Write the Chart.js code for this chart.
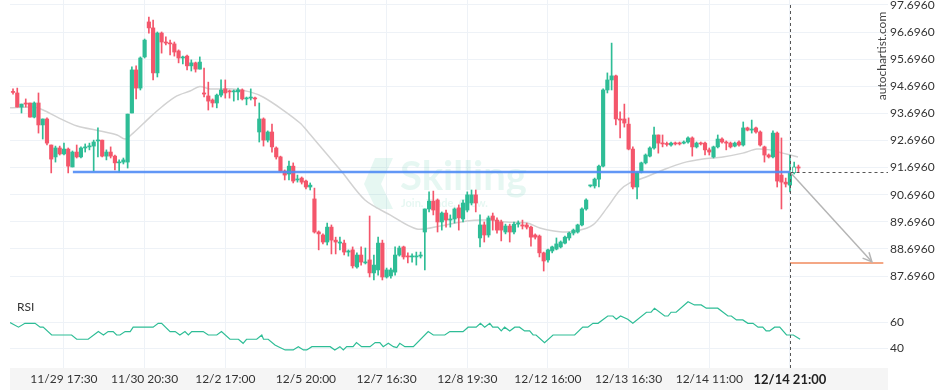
<!DOCTYPE html>
<html lang="en">
<head>
<meta charset="UTF-8">
<title>Skilling - autochartist</title>
<style>
  html, body { margin: 0; padding: 0; background: #fff; }
  .chart-wrap { position: relative; width: 936px; height: 390px; }
</style>
</head>
<body>
<div class="chart-wrap"><canvas id="chart"></canvas></div>
<script src="https://cdn.jsdelivr.net/npm/chart.js"></script>
<script>
// candles, one per slot (index 0 .. 185)
const opens = [
  94.50, 94.45, 93.93, 94.08, 94.08, 93.56, 94.08, 93.27, 93.49, 92.53,
  92.09, 92.42, 92.20, 92.38, 91.72, 92.27, 92.09, 92.42, 92.46, 92.49,
  92.68, 92.71, 92.12, 92.27, 92.12, 91.87, 91.90, 91.90, 93.71, 95.30,
  94.63, 95.78, 97.07, 96.85, 95.19, 96.66, 96.33, 96.29, 96.26, 96.00,
  95.74, 95.81, 95.45, 95.56, 95.33, 94.45, 94.34, 94.19, 94.08, 94.37,
  94.60, 94.52, 94.49, 94.49, 94.56, 94.23, 94.26, 94.26, 93.01, 93.49,
  92.71, 93.01, 92.42, 92.09, 91.57, 91.46, 91.75, 91.24, 91.31, 91.20,
  90.98, 90.54, 89.32, 89.21, 88.95, 89.50, 89.02, 88.91, 88.91, 88.58,
  88.66, 88.03, 88.47, 88.18, 88.29, 87.81, 87.92, 88.91, 87.66, 87.70,
  87.84, 88.47, 88.77, 88.43, 88.40, 88.40, 88.43, 89.32, 90.17, 90.46,
  90.50, 89.69, 90.02, 89.76, 89.80, 90.21, 89.80, 90.13, 90.39, 90.69,
  89.10, 89.58, 89.21, 89.91, 89.76, 89.69, 89.32, 89.54, 89.32, 89.61,
  89.58, 89.58, 89.50, 89.21, 89.17, 88.55, 88.29, 88.62, 88.69, 88.77,
  88.91, 89.10, 89.28, 89.32, 89.58, 90.17, 91.02, 91.02, 91.27, 91.75,
  94.56, 94.93, 95.08, 93.49, 93.49, 93.30, 92.38, 90.98, 91.53, 91.87,
  92.12, 92.42, 92.90, 92.60, 92.57, 92.53, 92.60, 92.60, 92.60, 92.64,
  92.79, 92.46, 92.60, 92.60, 92.35, 92.09, 92.46, 92.75, 92.64, 92.60,
  92.49, 92.64, 92.53, 93.16, 93.08, 93.16, 93.01, 92.46, 92.16, 92.09,
  92.97, 91.42, 91.16, 91.05, 91.50, 91.72
];
const closes = [
  94.47, 93.93, 94.04, 94.04, 93.56, 94.08, 93.27, 93.49, 92.60, 92.01,
  92.42, 92.20, 92.38, 91.75, 92.27, 92.09, 92.42, 92.46, 92.49, 92.64,
  92.71, 92.12, 92.27, 92.12, 91.87, 91.90, 91.98, 93.67, 95.30, 94.63,
  95.74, 96.40, 96.85, 95.19, 96.66, 96.33, 96.29, 96.26, 95.96, 95.74,
  95.78, 95.45, 95.56, 95.33, 95.59, 94.41, 94.15, 94.08, 94.37, 94.56,
  94.45, 94.49, 94.51, 94.56, 94.23, 94.26, 94.30, 94.23, 93.49, 92.71,
  93.01, 92.46, 92.09, 91.57, 91.42, 91.75, 91.20, 91.27, 91.16, 90.98,
  91.05, 89.32, 89.25, 88.95, 89.50, 89.02, 88.95, 88.95, 88.58, 88.62,
  88.07, 88.47, 88.21, 88.21, 87.81, 88.10, 88.91, 87.66, 87.92, 87.92,
  88.47, 88.73, 88.40, 88.40, 88.43, 88.43, 88.47, 90.17, 90.46, 90.13,
  89.69, 90.02, 89.76, 89.80, 90.17, 89.84, 90.39, 90.69, 90.69, 90.39,
  89.58, 89.21, 89.84, 89.76, 89.39, 89.39, 89.54, 89.32, 89.61, 89.65,
  89.54, 89.50, 89.13, 89.13, 88.55, 88.25, 88.66, 88.77, 88.88, 88.95,
  89.13, 89.28, 89.39, 89.58, 90.17, 90.50, 91.03, 91.27, 91.75, 94.56,
  94.93, 95.08, 93.49, 93.45, 93.34, 92.38, 90.98, 91.50, 91.87, 92.16,
  92.42, 92.90, 92.60, 92.57, 92.55, 92.60, 92.57, 92.57, 92.64, 92.79,
  92.46, 92.60, 92.57, 92.35, 92.27, 92.46, 92.75, 92.64, 92.60, 92.46,
  92.60, 92.53, 93.16, 93.08, 93.12, 93.01, 92.53, 92.16, 92.09, 92.97,
  91.20, 91.16, 91.09, 91.50, 91.72, 91.68
];
const highs = [
  94.60, 94.63, 94.04, 94.23, 94.08, 94.12, 94.45, 93.49, 93.53, 92.53,
  92.49, 92.49, 92.60, 92.42, 92.31, 92.53, 92.46, 92.57, 92.60, 92.71,
  93.16, 92.71, 92.35, 92.46, 92.16, 91.98, 92.05, 93.67, 95.41, 95.45,
  95.78, 96.44, 97.25, 97.14, 96.70, 96.70, 96.52, 96.40, 96.33, 96.04,
  95.81, 95.85, 95.67, 95.59, 95.78, 95.37, 94.85, 94.23, 94.41, 94.93,
  94.93, 94.56, 94.56, 94.63, 94.60, 94.30, 94.60, 94.30, 94.08, 93.53,
  93.05, 93.30, 92.46, 92.12, 91.61, 91.94, 91.87, 91.42, 91.35, 91.24,
  91.13, 90.94, 89.36, 89.25, 89.65, 89.58, 89.13, 89.13, 89.02, 88.66,
  88.77, 88.55, 88.77, 88.73, 89.91, 88.47, 89.13, 89.02, 87.99, 87.99,
  88.77, 88.80, 88.80, 88.55, 88.51, 88.58, 88.58, 90.17, 90.80, 90.83,
  90.54, 90.06, 90.13, 89.95, 90.21, 90.32, 90.50, 90.80, 90.87, 90.87,
  89.95, 89.69, 89.91, 90.02, 89.84, 89.76, 89.61, 89.61, 89.69, 89.73,
  89.76, 89.65, 89.54, 89.25, 89.21, 88.58, 88.69, 88.80, 89.10, 88.99,
  89.17, 89.32, 89.43, 89.61, 90.21, 90.54, 91.05, 91.31, 91.79, 94.60,
  95.19, 96.29, 95.11, 93.75, 94.04, 93.53, 92.46, 91.53, 91.90, 92.20,
  92.46, 93.19, 92.90, 92.90, 92.64, 92.64, 92.64, 92.64, 92.68, 92.83,
  92.83, 92.64, 92.64, 92.64, 92.42, 92.49, 92.90, 92.79, 92.68, 92.64,
  92.64, 92.68, 93.38, 93.19, 93.45, 93.19, 93.05, 92.49, 92.20, 93.05,
  93.01, 92.79, 91.31, 92.16, 91.90, 91.79
];
const lows = [
  94.41, 93.93, 93.71, 93.93, 93.56, 93.53, 92.97, 92.75, 92.53, 91.50,
  91.90, 92.16, 92.16, 91.50, 91.72, 92.05, 92.05, 92.27, 92.35, 91.57,
  92.09, 92.09, 91.98, 92.05, 91.61, 91.53, 91.83, 91.68, 93.71, 94.23,
  94.56, 95.74, 96.66, 94.93, 95.04, 95.92, 96.22, 95.85, 95.81, 95.56,
  95.52, 95.30, 95.26, 95.22, 95.33, 94.30, 93.82, 93.93, 93.90, 94.30,
  94.26, 94.26, 94.15, 94.19, 94.19, 94.01, 94.19, 93.97, 92.64, 92.49,
  92.64, 92.27, 92.01, 91.53, 91.24, 91.24, 91.13, 91.16, 91.09, 90.91,
  90.87, 89.28, 88.66, 88.88, 88.84, 88.51, 88.51, 88.66, 88.47, 88.43,
  87.99, 87.99, 88.10, 88.14, 87.66, 87.55, 87.73, 87.55, 87.62, 87.62,
  87.73, 88.43, 88.32, 88.18, 88.21, 88.10, 88.36, 87.92, 90.06, 89.95,
  89.32, 89.39, 89.50, 89.50, 89.65, 89.39, 89.69, 90.06, 90.32, 90.06,
  88.77, 88.95, 89.13, 89.39, 89.28, 88.99, 89.25, 88.95, 89.25, 89.50,
  89.43, 89.43, 88.80, 89.06, 88.40, 87.88, 88.21, 88.55, 88.66, 88.73,
  88.88, 89.02, 89.21, 89.28, 89.54, 90.13, 90.98, 90.94, 90.98, 91.72,
  94.45, 94.56, 93.27, 92.79, 93.19, 92.35, 90.91, 90.54, 91.50, 91.83,
  92.09, 92.38, 92.23, 92.46, 92.49, 92.49, 92.53, 92.53, 92.57, 92.60,
  92.12, 92.42, 92.53, 92.16, 92.16, 92.05, 92.42, 92.60, 92.35, 92.42,
  92.46, 92.49, 92.49, 93.05, 92.97, 92.97, 92.49, 91.90, 92.05, 92.05,
  90.98, 90.17, 90.98, 90.80, 91.46, 91.53
];
const liveCandle = 184;   // the still-open candle is drawn hollow

// moving average (slot index, price)
const maIdx = [-0.7, 4.7, 7.1, 10.4, 15.1, 20.5, 24.5, 26.4, 28.3, 32.3, 35.3, 38.6, 41.7, 44, 46.4, 51.8,
  55.8, 58.9, 63.6, 67.6, 69.5, 72.3, 75.1, 77.5, 82.9, 88.8, 95.1, 100.6, 106.9, 111.6, 116.3, 121.1,
  124.1, 128.8, 132.8, 136.6, 139.9, 143, 145.3, 148.4, 153.1, 157.8, 162.5, 167.2, 171.9, 175.2, 178.3, 181.3, 184.9];
const maVal = [93.90, 93.93, 93.82, 93.56, 93.23, 93.05, 92.90, 92.75, 92.97, 93.56, 93.97, 94.34, 94.52, 94.69, 94.60, 94.60,
  94.49, 94.30, 93.82, 93.34, 93.01, 92.49, 91.98, 91.53, 90.50, 89.95, 89.43, 89.54, 89.73, 89.76, 89.69, 89.65,
  89.47, 89.33, 89.36, 89.58, 90.21, 90.87, 91.13, 91.31, 91.61, 91.87, 92.01, 92.09, 92.23, 92.38, 92.35, 92.23, 92.09];

// RSI pane
const rsiIdx = [-0.7, 1.3, 2.8, 5.2, 6.4, 7.1, 9.1, 13.8, 15, 17.7,
  20.1, 21.3, 22.4, 23.6, 24.4, 25.2, 26.4, 27.6, 28.3, 33,
  34.2, 35, 37, 38.2, 39.3, 40.5, 41.3, 42.1, 44.8, 46,
  48, 49.1, 51.1, 53.1, 54.2, 55, 57.4, 58.6, 59, 60.1,
  61.7, 62.5, 64.1, 66, 67.2, 68.4, 69.2, 70.4, 74.7, 75.8,
  77, 77.8, 78.6, 80.1, 80.9, 82.1, 84.1, 85.3, 86.4, 87.2,
  88.4, 89.6, 90.4, 91.1, 92.3, 94.3, 97.8, 99, 101.7, 102.9,
  106, 107.2, 109.1, 110.1, 111.1, 112.3, 113, 114.2, 115, 115.8,
  117, 118.2, 119.3, 120.5, 121.7, 122.5, 123.2, 125.2, 127.2, 132.3,
  134.2, 135.4, 136.6, 137.8, 140.1, 141.3, 142.1, 143.1, 144.8, 146,
  149.2, 150.3, 151.1, 153.5, 154.3, 155, 156.2, 159, 160.5, 162.1,
  163.3, 166, 168.4, 169.2, 170.4, 171.9, 173.1, 174.3, 175.5, 176.6,
  177.4, 178.2, 179.4, 180.6, 182.2, 183.8, 185.4];
const rsiVal = [59.7, 56.2, 59.2, 59.2, 56.2, 56.2, 50.2, 50.2, 46.9, 46.9,
  52.8, 50.2, 52.8, 52.8, 50.2, 50.2, 52.8, 52.8, 56.2, 56.2,
  59.2, 59.2, 52.8, 52.8, 50.2, 52.8, 50.2, 52.8, 52.8, 50.2,
  50.2, 52.8, 46.9, 46.9, 43.8, 46.9, 46.9, 50.2, 46.9, 46.9,
  42.5, 41.2, 38.7, 38.7, 41.2, 38.7, 38.7, 41.2, 41.2, 38.7,
  41.2, 38.7, 41.2, 41.2, 44.3, 41.2, 41.2, 44.3, 44.3, 41.2,
  43.8, 41.2, 40.5, 43.8, 41.2, 41.2, 52.8, 50.2, 50.2, 52.8,
  52.8, 56.2, 56.2, 59.2, 56.2, 59.2, 56.2, 56.2, 53.3, 56.2,
  53.3, 56.2, 56.2, 53.3, 53.3, 50.2, 50.2, 44.3, 50.2, 50.2,
  56.2, 56.2, 59.2, 59.2, 64.8, 64.8, 62.3, 64.8, 62.3, 59.2,
  67.7, 67.7, 70.8, 64.8, 64.8, 67.7, 67.7, 75.8, 73.3, 73.3,
  70.8, 70.8, 64.8, 64.8, 61.8, 61.8, 59.2, 59.2, 56.2, 56.2,
  53.3, 53.3, 56.2, 56.2, 50.2, 50.2, 46.9];

// support level, breakout and forecast
const levelPrice = 91.53;
const levelFrom = 14.1;
const breakoutIdx = 183;
const arrowTipIdx = 202.3;
const arrowTipPrice = 88.22;
const targetPrice = 88.18;
const targetTo = 205;

// axes
const labelIdx = [12, 31, 50, 69, 88, 107, 126, 145, 164, 183];
const timeLabels = ['11/29 17:30', '11/30 20:30', '12/2 17:00', '12/5 20:00', '12/7 16:30',
  '12/8 19:30', '12/12 16:00', '12/13 16:30', '12/14 11:00', '12/14 21:00'];
const priceTicks = [87.696, 88.696, 89.696, 90.696, 91.696, 92.696, 93.696, 94.696, 95.696, 96.696, 97.696];
const rsiTicks = [40, 60];

const GREEN = '#2ebd96';
const RED = '#f4566b';
const GRID = '#eef2f7';

const bodies = opens.map((o, i) => ({ x: i, y: [o, closes[i]] }));
const wicks = opens.map((o, i) => ({ x: i, y: [lows[i], highs[i]] }));
const candleColor = opens.map((o, i) => closes[i] >= o ? GREEN : RED);
const bodyFill = candleColor.map((c, i) => i === liveCandle ? '#ffffff' : c);
const bodyBorderW = candleColor.map((c, i) => i === liveCandle ? 1 : 0);

// keep the plot area flush with the canvas edges
function noPad(s) {
  s.paddingTop = 0;
  s.paddingBottom = 0;
  s.paddingLeft = 0;
  s.paddingRight = 0;
}

const overlay = {
  id: 'overlay',
  beforeDraw(chart) {
    const { ctx, chartArea: a } = chart;
    ctx.save();
    ctx.fillStyle = '#f5f5f5';
    ctx.fillRect(a.left, a.bottom, a.right - a.left, chart.height - a.bottom);
    ctx.restore();
  },
  beforeDatasetsDraw(chart) {
    // faint broker watermark
    const { ctx } = chart;
    ctx.save();
    ctx.fillStyle = 'rgba(46, 189, 150, 0.12)';
    ctx.beginPath();
    ctx.moveTo(375, 158);
    ctx.lineTo(393, 158);
    ctx.lineTo(381, 184);
    ctx.lineTo(393, 209);
    ctx.lineTo(376, 209);
    ctx.lineTo(364, 184);
    ctx.closePath();
    ctx.fill();
    ctx.font = 'bold 40px Lato';
    ctx.textBaseline = 'alphabetic';
    ctx.fillText('Skilling', 400, 190);
    ctx.font = 'bold 11px Lato';
    ctx.fillText('Join. Trade. Grow.', 401, 207);
    ctx.restore();
  },
  afterDatasetsDraw(chart) {
    const { ctx, chartArea: a, scales } = chart;
    const xs = scales.x, ys = scales.y;
    const bx = Math.round(xs.getPixelForValue(breakoutIdx)) + 0.5;
    const ly = Math.round(ys.getPixelForValue(levelPrice)) + 0.5;
    ctx.save();
    ctx.strokeStyle = '#555';
    ctx.lineWidth = 1;
    ctx.setLineDash([3, 3]);
    ctx.beginPath();
    ctx.moveTo(bx, ys.getPixelForValue(priceTicks[priceTicks.length - 1]));
    ctx.lineTo(bx, a.bottom);
    ctx.moveTo(bx, ly);
    ctx.lineTo(a.right, ly);
    ctx.stroke();
    ctx.setLineDash([]);

    // arrow head
    const x0 = xs.getPixelForValue(breakoutIdx), y0 = ys.getPixelForValue(levelPrice);
    const x1 = xs.getPixelForValue(arrowTipIdx), y1 = ys.getPixelForValue(arrowTipPrice);
    const ang = Math.atan2(y1 - y0, x1 - x0);
    ctx.strokeStyle = '#b5b5b5';
    ctx.lineWidth = 1.5;
    ctx.beginPath();
    ctx.moveTo(x1 - 10 * Math.cos(ang - 0.45), y1 - 10 * Math.sin(ang - 0.45));
    ctx.lineTo(x1, y1);
    ctx.lineTo(x1 - 10 * Math.cos(ang + 0.45), y1 - 10 * Math.sin(ang + 0.45));
    ctx.stroke();

    // pane captions
    ctx.fillStyle = '#333';
    ctx.font = '12px Lato';
    ctx.textBaseline = 'middle';
    ctx.fillText('RSI', 17, 307);
    ctx.translate(882, 56);
    ctx.rotate(-Math.PI / 2);
    ctx.textAlign = 'center';
    ctx.fillStyle = '#444';
    ctx.fillText('autochartist.com', 0, 0);
    ctx.restore();
  }
};

new Chart(document.getElementById('chart'), {
  type: 'bar',
  data: {
    datasets: [
      {
        type: 'line',
        data: [{ x: levelFrom, y: levelPrice }, { x: breakoutIdx, y: levelPrice }],
        borderColor: 'rgba(80, 140, 245, 0.9)',
        borderWidth: 2.5,
        pointRadius: 0,
        yAxisID: 'y',
        order: 0
      },
      {
        type: 'line',
        data: [{ x: breakoutIdx, y: levelPrice }, { x: arrowTipIdx, y: arrowTipPrice }],
        borderColor: '#b5b5b5',
        borderWidth: 1.5,
        pointRadius: 0,
        yAxisID: 'y',
        order: 0
      },
      {
        type: 'line',
        data: [{ x: breakoutIdx, y: targetPrice }, { x: targetTo, y: targetPrice }],
        borderColor: '#f08a5d',
        borderWidth: 1.5,
        pointRadius: 0,
        yAxisID: 'y',
        order: 0
      },
      {
        data: bodies,
        backgroundColor: bodyFill,
        borderColor: candleColor,
        borderWidth: bodyBorderW,
        borderSkipped: false,
        barThickness: 3.5,
        minBarLength: 1,
        grouped: false,
        yAxisID: 'y',
        order: 1
      },
      {
        data: wicks,
        backgroundColor: candleColor,
        borderWidth: 0,
        barThickness: 1,
        grouped: false,
        yAxisID: 'y',
        order: 2
      },
      {
        type: 'line',
        data: maIdx.map((x, i) => ({ x, y: maVal[i] })),
        borderColor: '#d2d2d2',
        borderWidth: 1.5,
        pointRadius: 0,
        tension: 0.3,
        yAxisID: 'y',
        order: 3
      },
      {
        type: 'line',
        data: rsiIdx.map((x, i) => ({ x, y: rsiVal[i] })),
        borderColor: GREEN,
        borderWidth: 1.2,
        pointRadius: 0,
        yAxisID: 'rsi',
        order: 0
      }
    ]
  },
  options: {
    responsive: true,
    maintainAspectRatio: false,
    animation: false,
    events: [],
    layout: { padding: { left: 10, right: 0, top: 0, bottom: 0 } },
    plugins: { legend: { display: false }, tooltip: { enabled: false } },
    scales: {
      x: {
        type: 'linear',
        min: -0.71,
        max: 206.1,
        offset: false,
        afterBuildTicks: s => { s.ticks = labelIdx.map(v => ({ value: v })); },
        afterFit: s => { s.height = 22; noPad(s); },
        ticks: {
          autoSkip: false,
          maxRotation: 0,
          padding: 4,
          color: ctx => ctx.index === timeLabels.length - 1 ? '#222' : '#333',
          font: ctx => ctx.index === timeLabels.length - 1
            ? { family: 'Lato', size: 13, weight: 'bold' }
            : { family: 'Lato', size: 12 },
          callback: (v, i) => timeLabels[i]
        },
        grid: { color: GRID, offset: false, drawTicks: false },
        border: { display: false }
      },
      y: {
        type: 'linear',
        position: 'right',
        stack: 'panes',
        stackWeight: 290,
        min: 87.18,
        max: 97.88,
        afterBuildTicks: s => { s.ticks = priceTicks.map(v => ({ value: v })); },
        afterFit: s => { s.width = 48; noPad(s); },
        ticks: {
          autoSkip: false,
          padding: 2,
          color: '#333',
          font: { family: 'Lato', size: 12 },
          callback: v => v.toFixed(4)
        },
        grid: { color: GRID, drawTicks: false },
        border: { display: false }
      },
      rsi: {
        type: 'linear',
        position: 'right',
        stack: 'panes',
        stackWeight: 78,
        min: 24.8,
        max: 84.8,
        afterBuildTicks: s => { s.ticks = rsiTicks.map(v => ({ value: v })); },
        afterFit: s => { s.width = 48; noPad(s); },
        ticks: {
          autoSkip: false,
          padding: 2,
          color: '#333',
          font: { family: 'Lato', size: 12 }
        },
        grid: { color: GRID, drawTicks: false },
        border: { display: false }
      }
    }
  },
  plugins: [overlay]
});
</script>
</body>
</html>
